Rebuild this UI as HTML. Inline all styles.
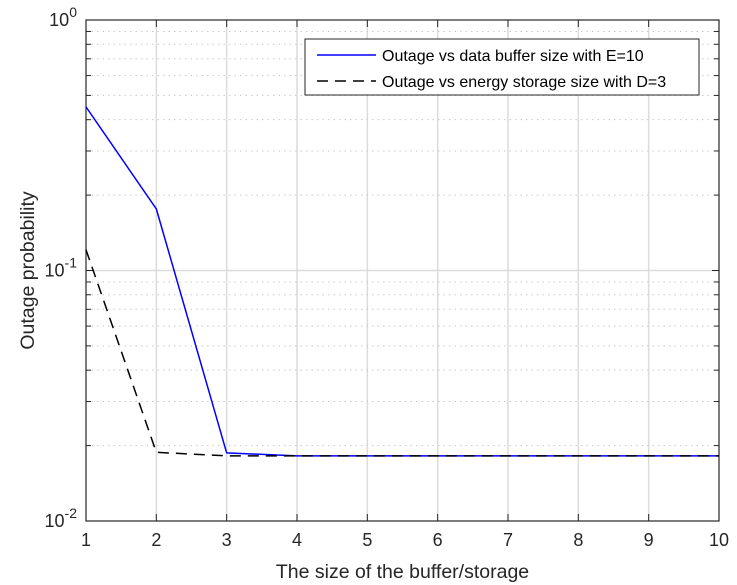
<!DOCTYPE html>
<html><head><meta charset="utf-8"><style>
body{margin:0;background:#fff;}
svg{display:block;font-family:"Liberation Sans",sans-serif;}
</style></head><body>
<svg id="chart" width="737" height="585"></svg>
<script>
const categories=[1,2,3,4,5,6,7,8,9,10];
const bufferOutage=[0.45,0.176,0.0187,0.0182,0.0182,0.0182,0.0182,0.0182,0.0182,0.0182];
const energyOutage=[0.121,0.0188,0.0182,0.0182,0.0182,0.0182,0.0182,0.0182,0.0182,0.0182];
const xTicks=[1,2,3,4,5,6,7,8,9,10];
const yDecades=[-2,-1,0];
const L=86,R=719,T=20,B=521;
const NS="http://www.w3.org/2000/svg";
const svg=document.getElementById('chart');
const xs=v=>L+(v-1)/9*(R-L);
const ys=v=>T+(0-Math.log10(v))/2*(B-T);
function mk(t,a,parent){const e=document.createElementNS(NS,t);for(const k in a)e.setAttribute(k,a[k]);(parent||svg).appendChild(e);return e;}
const grid=mk('g',{});


xTicks.forEach(t=>{if(t>1&&t<10)mk('line',{x1:xs(t),x2:xs(t),y1:T,y2:B,stroke:'#dcdcdc','stroke-width':1.5},grid);});
mk('line',{x1:L,x2:R,y1:ys(0.1),y2:ys(0.1),stroke:'#dcdcdc','stroke-width':1.5},grid);
[-2,-1].forEach(d=>{for(let m=2;m<=9;m++){const y=ys(m*Math.pow(10,d));mk('line',{x1:L,x2:R,y1:y,y2:y,stroke:'#c8c8c8','stroke-width':1,'stroke-dasharray':'1.5,4'},grid);
mk('line',{x1:L,x2:L+5,y1:y,y2:y,stroke:'#262626'},grid);mk('line',{x1:R,x2:R-5,y1:y,y2:y,stroke:'#262626'},grid);}});
const axes=mk('g',{});


mk('rect',{x:L,y:T,width:R-L,height:B-T,fill:'none',stroke:'#262626','stroke-width':1.2},axes);
xTicks.forEach(t=>{const x=xs(t);mk('line',{x1:x,x2:x,y1:B,y2:B-7,stroke:'#262626'},axes);mk('line',{x1:x,x2:x,y1:T,y2:T+7,stroke:'#262626'},axes);
const tx=mk('text',{x:x,y:B+25,'text-anchor':'middle','font-size':18,fill:'#262626'},axes);tx.textContent=t;

});
yDecades.forEach(d=>{const y=ys(Math.pow(10,d));mk('line',{x1:L,x2:L+7,y1:y,y2:y,stroke:'#262626'},axes);mk('line',{x1:R,x2:R-7,y1:y,y2:y,stroke:'#262626'},axes);
const tx=mk('text',{x:L-9,y:y+6,'text-anchor':'end','font-size':18,fill:'#262626'},axes);


const a=document.createElementNS(NS,'tspan');a.textContent='10';tx.appendChild(a);
const b=document.createElementNS(NS,'tspan');b.setAttribute('dy','-9');b.setAttribute('font-size','14');b.textContent=String(d);tx.appendChild(b);});
const xl=mk('text',{x:(L+R)/2,y:578,'text-anchor':'middle','font-size':19.5,fill:'#262626'});xl.textContent='The size of the buffer/storage';


const yl=mk('text',{x:0,y:0,'text-anchor':'middle','font-size':19.5,fill:'#262626',transform:`translate(34,${(T+B)/2}) rotate(-90)`});yl.textContent='Outage probability';


const p1=mk('polyline',{points:categories.map((c,i)=>xs(c)+','+ys(bufferOutage[i])).join(' '),fill:'none',stroke:'#0000ff','stroke-width':1.5});


const p2=mk('polyline',{points:categories.map((c,i)=>xs(c)+','+ys(energyOutage[i])).join(' '),fill:'none',stroke:'#000','stroke-width':1.5,'stroke-dasharray':'11,7'});


const lg=mk('g',{});


mk('rect',{x:305,y:39,width:394,height:56,fill:'#fff',stroke:'#262626','stroke-width':1},lg);
mk('line',{x1:317,x2:376,y1:55,y2:55,stroke:'#0000ff','stroke-width':1.5},lg);
mk('line',{x1:317,x2:376,y1:81,y2:81,stroke:'#000','stroke-width':1.5,'stroke-dasharray':'11,7'},lg);
const t1=mk('text',{x:382,y:61,'font-size':16,fill:'#000'},lg);t1.textContent='Outage vs data buffer size with E=10';


const t2=mk('text',{x:382,y:87,'font-size':16,fill:'#000'},lg);t2.textContent='Outage vs energy storage size with D=3';


</script>
</body></html>
